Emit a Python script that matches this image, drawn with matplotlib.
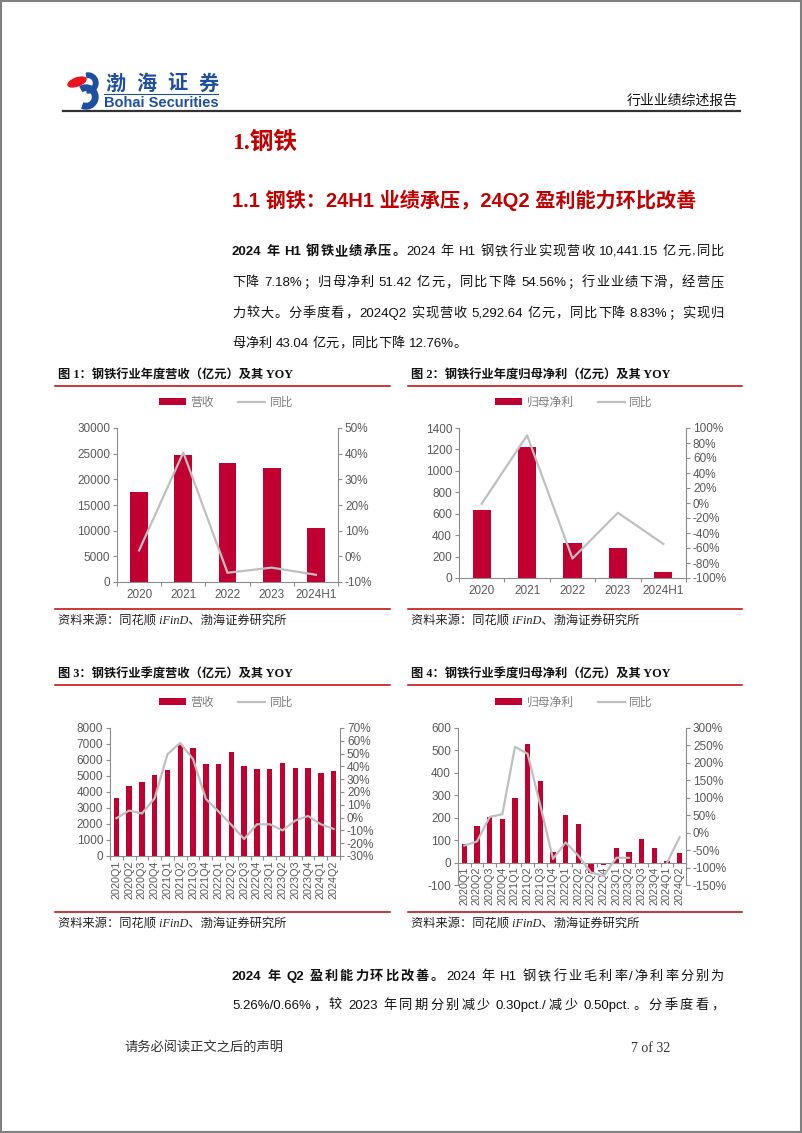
import numpy as np
import matplotlib
matplotlib.use('Agg')
import matplotlib.pyplot as plt
from matplotlib.patches import Rectangle, Ellipse, Wedge
from matplotlib.ticker import FuncFormatter

plt.rcParams['font.family'] = ['Liberation Sans', 'Noto Sans CJK SC']
plt.rcParams['axes.unicode_minus'] = False

# ---- data ----
years = ['2020', '2021', '2022', '2023', '2024H1']
rev_year = [17560, 24820, 23130, 22160, 10441.15]
rev_year_yoy = [2.3, 40.5, -6.4, -4.4, -7.18]
np_year = [638, 1223, 324, 280, 51.42]
np_year_yoy = [-1.0, 90.2, -74.0, -13.0, -54.56]

quarters = ['2020Q1', '2020Q2', '2020Q3', '2020Q4', '2021Q1', '2021Q2',
            '2021Q3', '2021Q4', '2022Q1', '2022Q2', '2022Q3', '2022Q4',
            '2023Q1', '2023Q2', '2023Q3', '2023Q4', '2024Q1', '2024Q2']
rev_q = [3640, 4370, 4640, 5050, 5400, 6920, 6760, 5780, 5740, 6510,
         5610, 5450, 5450, 5820, 5490, 5490, 5160, 5292.64]
rev_q_yoy = [-0.5, 5.5, 3.2, 15.2, 49.6, 58.3, 45.7, 14.6, 4.7, -5.7,
             -16.7, -5.2, -5.2, -10.0, -2.3, 1.3, -5.2, -8.83]
np_q = [82, 164, 205, 193, 288, 530, 364, 45, 210, 170,
        -46, -12, 63, 49, 106, 63, 6, 43.04]
np_q_yoy = [-37, -25, 45, 53, 246, 226, 78, -75, -28, -66,
            -114, -124, -72, -72, np.nan, np.nan, -86, -12.76]

RED = '#C00030'
GRAY_LINE = '#BFBFBF'
AX_COL = '#8C8C8C'
LBL_COL = '#595959'
TITLE_RED = '#C00000'
LOGO_BLUE = '#1F4FA0'

W, H = 802, 1133
fig = plt.figure(figsize=(W / 100, H / 100), dpi=100)

# page overlay in pixel units
page = fig.add_axes([0, 0, 1, 1], zorder=-1)
page.set_xlim(0, W)
page.set_ylim(H, 0)
page.axis('off')
renderer = fig.canvas.get_renderer()

BODY = ['Liberation Sans', 'Noto Sans CJK SC']
SERIF = ['Liberation Serif', 'Noto Sans CJK SC']


def box(x0, y0, x1, y1):
    return [x0 / W, 1 - y1 / H, (x1 - x0) / W, (y1 - y0) / H]


def split_tokens(s):
    toks = []
    word = ''
    gap = False
    for ch in s:
        if ch == ' ':
            if word:
                toks.append((word, gap))
                word = ''
                gap = False
            gap = True
        elif ord(ch) < 128:
            word += ch
        else:
            if word:
                toks.append((word, gap))
                word = ''
                gap = False
            toks.append((ch, gap))
            gap = False
    if word:
        toks.append((word, gap))
    return toks


def text_width(s, size, weight):
    t = page.text(0, 0, s, fontsize=size, fontweight=weight, family=BODY)
    w = t.get_window_extent(renderer).width
    t.remove()
    return w


def para_line(x0, x1, y, segments, size=9.5, justify=True):
    toks = []
    for s, wt in segments:
        for word, gap in split_tokens(s):
            toks.append((word, gap, wt))
    widths = [text_width(w, size, wt) for w, g, wt in toks]
    space = 0.28 * size * 100 / 72
    natural = sum(widths) + space * sum(1 for t in toks[1:] if t[1])
    extra = (x1 - x0 - natural) / (len(toks) - 1) if justify else 0
    x = x0
    for i, ((word, gap, wt), w) in enumerate(zip(toks, widths)):
        if i > 0:
            x += extra + (space if gap else 0)
        page.text(x, y, word, fontsize=size, fontweight=wt, family=BODY,
                  color='#111111', ha='left', va='baseline')
        x += w


# page frame
page.add_patch(Rectangle((0.8, 0.8), W - 1.6, H - 1.6, fill=False,
                         ec='#808080', lw=1.5))

# header / logo
page.add_patch(Ellipse((77, 82), 19, 8, angle=-20, color='#E8141E'))
page.add_patch(Wedge((88, 83), 10, -100, 95, width=4.5, color=LOGO_BLUE))
page.add_patch(Wedge((86, 97), 12, -120, 110, width=5.5, color=LOGO_BLUE))
for i, ch in enumerate('渤海证券'):
    page.text(105 + i * 31, 84, ch, fontsize=14.5, fontweight='bold',
              color=LOGO_BLUE, va='center', ha='left', family=BODY)
page.plot([104, 218], [94, 94], color=LOGO_BLUE, lw=0.8)
page.text(104, 103, 'Bohai Securities', fontsize=10.5, fontweight='bold',
          color=LOGO_BLUE, va='center', ha='left', family=BODY)
page.text(738, 101, '行业业绩综述报告', fontsize=10, color='#111111',
          va='center', ha='right', family=BODY)
page.plot([63, 740], [111, 111], color='#333333', lw=1.6)

# headings
page.text(232, 149, '1.钢铁', fontsize=17, fontweight='bold', color=TITLE_RED,
          family=SERIF, va='baseline')
page.text(232, 207, '1.1 钢铁：24H1 业绩承压，24Q2 盈利能力环比改善',
          fontsize=14.5, fontweight='bold', color=TITLE_RED, family=BODY,
          va='baseline')

# paragraph
para_line(232, 724, 255, [('2024 年 H1 钢铁业绩承压。', 'bold'),
                          ('2024 年 H1 钢铁行业实现营收 10,441.15 亿元,同比', 'normal')])
para_line(232, 724, 286, [('下降 7.18%；归母净利 51.42 亿元，同比下降 54.56%；行业业绩下滑，经营压', 'normal')])
para_line(232, 724, 317, [('力较大。分季度看，2024Q2 实现营收 5,292.64 亿元，同比下降 8.83%；实现归', 'normal')])
para_line(232, 724, 347, [('母净利 43.04 亿元，同比下降 12.76%。', 'normal')], justify=False)

para_line(232, 724, 980, [('2024 年 Q2 盈利能力环比改善。', 'bold'),
                          ('2024 年 H1 钢铁行业毛利率/净利率分别为', 'normal')])
para_line(232, 724, 1009, [('5.26%/0.66%，较 2023 年同期分别减少 0.30pct./减少 0.50pct.。分季度看，', 'normal')])

# footer
page.text(204, 1048, '请务必阅读正文之后的声明', fontsize=9.5, color='#333333',
          ha='center', va='center', family=BODY)
page.text(651, 1048, '7 of 32', fontsize=10, color='#333333',
          ha='center', va='center', family=SERIF)

# chart frames: titles, red rules, sources
frames = [
    (55, 390, 375, 386, 609, 621, '图 1：钢铁行业年度营收（亿元）及其 YOY'),
    (408, 742, 375, 386, 609, 621, '图 2：钢铁行业年度归母净利（亿元）及其 YOY'),
    (55, 390, 674, 685, 912, 924, '图 3：钢铁行业季度营收（亿元）及其 YOY'),
    (408, 742, 674, 685, 912, 924, '图 4：钢铁行业季度归母净利（亿元）及其 YOY'),
]
for x0, x1, yt, yr1, yr2, ys, title in frames:
    page.text(x0 + 3, yt, title, fontsize=8.8, fontweight='bold',
              color='#111111', va='center', family=SERIF)
    page.plot([x0, x1], [yr1, yr1], color=TITLE_RED, lw=1.1)
    page.plot([x0, x1], [yr2, yr2], color=TITLE_RED, lw=1.1)
    page.text(x0 + 3, ys, '资料来源：同花顺 iFinD、渤海证券研究所', fontsize=8.8,
              style='italic', color='#222222', va='center', family=SERIF)


def pct(v, pos):
    return '%d%%' % round(v)


def chart(rect, cats, bars, yoy, ylim, ystep, y2lim, y2step, bar_name,
          legend_xy, rotate=False, bar_w=0.4, zero_axis=False):
    ax = fig.add_axes(rect)
    n = len(cats)
    x = np.arange(n)
    b = ax.bar(x, bars, width=bar_w, color=RED, zorder=2)
    ax.set_xlim(-0.5, n - 0.5)
    ax.set_ylim(*ylim)
    ax.set_yticks(np.arange(ylim[0], ylim[1] + ystep / 2, ystep))
    ax.spines['top'].set_visible(False)
    ax.spines['right'].set_visible(False)
    for s in ('left', 'bottom'):
        ax.spines[s].set_color(AX_COL)
        ax.spines[s].set_linewidth(0.8)
    ax.tick_params(axis='y', colors=AX_COL, labelcolor=LBL_COL,
                   labelsize=8.5, length=3, width=0.8, pad=2)
    if zero_axis:
        # category axis (and its labels) sits on the zero line
        ax.spines['bottom'].set_position(('data', 0))
    edges = np.arange(n + 1) - 0.5
    ax.set_xticks(edges)
    ax.set_xticklabels([])
    ax.tick_params(axis='x', which='major', colors=AX_COL, length=3,
                   width=0.8)
    ax.set_xticks(x, minor=True)
    ax.set_xticklabels(cats, minor=True, rotation=90 if rotate else 0)
    ax.tick_params(axis='x', which='minor', length=0,
                   labelsize=7.8 if rotate else 8.5,
                   labelcolor=LBL_COL, pad=3 if rotate else 5)

    ax2 = ax.twinx()
    ln, = ax2.plot(x, yoy, color=GRAY_LINE, lw=1.6, zorder=3)
    ax2.set_ylim(*y2lim)
    ax2.set_yticks(np.arange(y2lim[0], y2lim[1] + y2step / 2, y2step))
    ax2.yaxis.set_major_formatter(FuncFormatter(pct))
    for s in ('top', 'left', 'bottom'):
        ax2.spines[s].set_visible(False)
    ax2.spines['right'].set_color(AX_COL)
    ax2.spines['right'].set_linewidth(0.8)
    ax2.tick_params(axis='y', colors=AX_COL, labelcolor=LBL_COL,
                    labelsize=8.5, length=3, width=0.8, pad=2)

    fig.legend([b, ln], [bar_name, '同比'], loc='center',
               bbox_to_anchor=(legend_xy[0] / W, 1 - legend_xy[1] / H),
               ncol=2, frameon=False, fontsize=8.5, labelcolor='#7F7F7F',
               handlelength=2.3, handleheight=0.55, handletextpad=0.4,
               columnspacing=2.0)
    return ax, ax2


chart(box(117, 428, 338, 582), years, rev_year, rev_year_yoy,
      (0, 30000), 5000, (-10, 50), 10, '营收', (226, 403))
chart(box(459, 428, 686, 578), years, np_year, np_year_yoy,
      (0, 1400), 200, (-100, 100), 20, '归母净利', (574, 403))
chart(box(110, 728, 340, 856), quarters, rev_q, rev_q_yoy,
      (0, 8000), 1000, (-30, 70), 10, '营收', (226, 703),
      rotate=True, bar_w=0.42)
chart(box(458, 728, 686, 885), quarters, np_q, np_q_yoy,
      (-100, 600), 100, (-150, 300), 50, '归母净利', (574, 703),
      rotate=True, bar_w=0.4, zero_axis=True)

fig.savefig('out.png', dpi=100)
